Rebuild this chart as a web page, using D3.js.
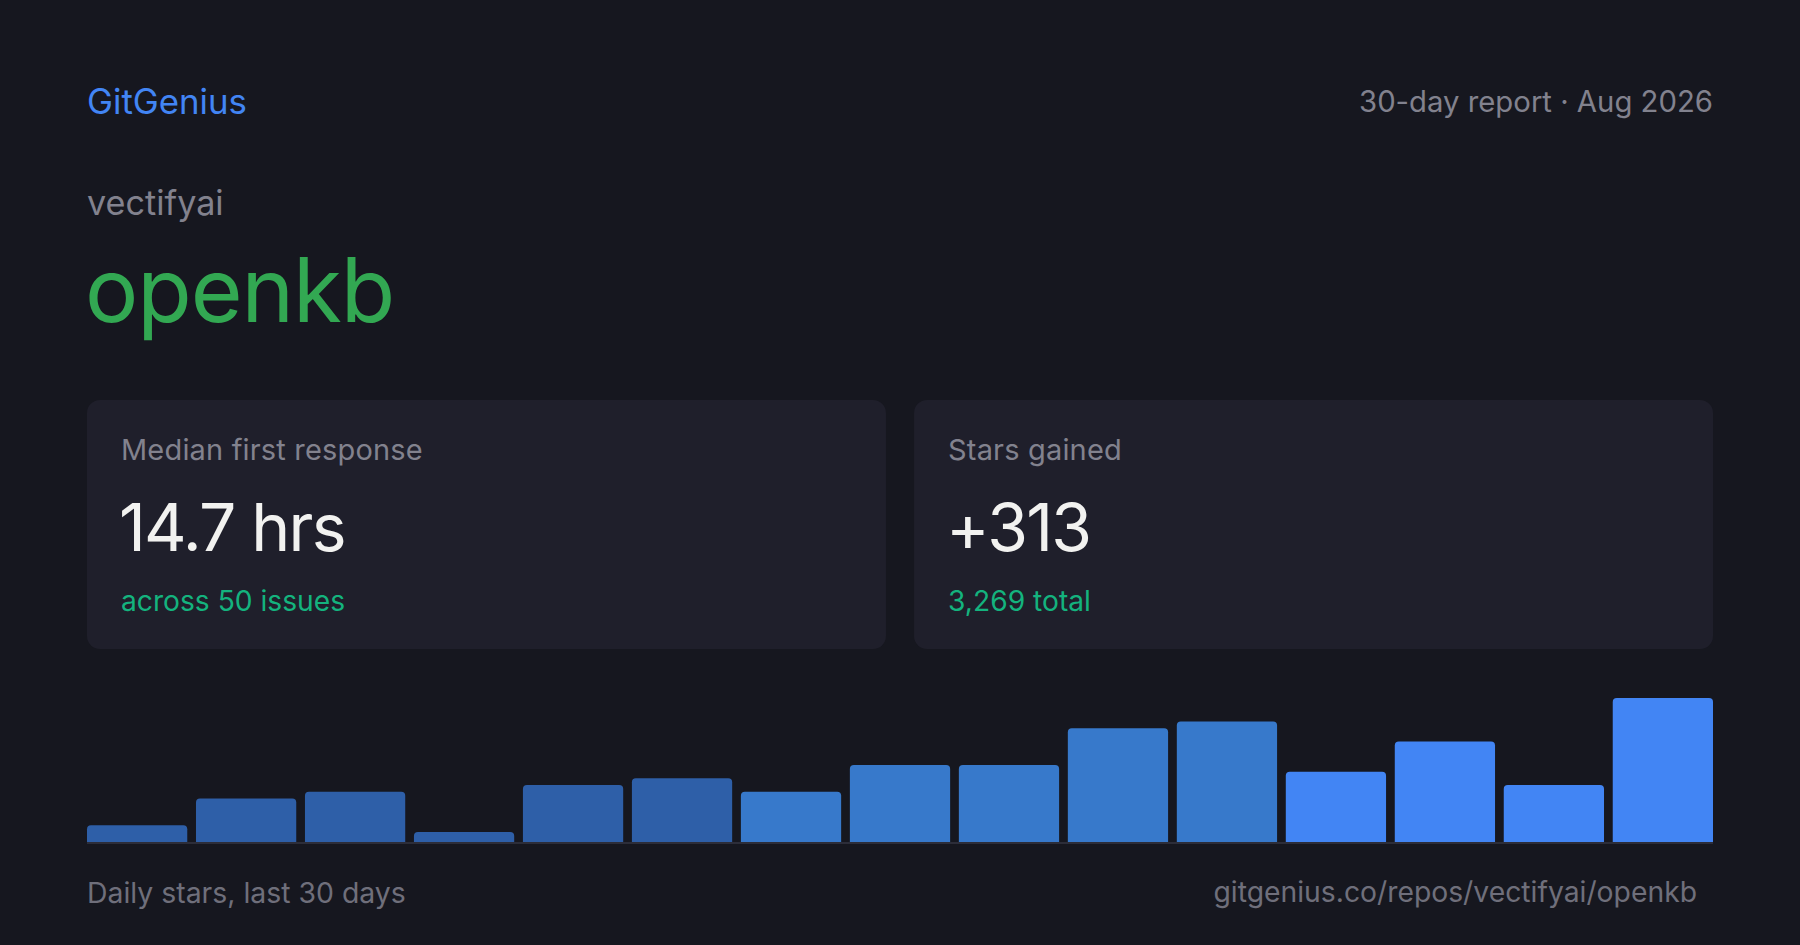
<!DOCTYPE html>
<html>
<head>
<meta charset="utf-8">
<script src="https://cdn.jsdelivr.net/npm/d3@7"></script>
<style>
  html, body { margin: 0; padding: 0; background: #16171f; }
  svg { display: block; }
  text { font-family: Inter, "Noto Sans", sans-serif; }
</style>
</head>
<body>
<svg id="chart" width="1800" height="945"></svg>
<script>
// ---- data ----
const brand = "GitGenius";
const reportLabel = "30-day report · Aug 2026";
const owner = "vectifyai";
const repo = "openkb";
const cardLabels = ["Median first response", "Stars gained"];
const cardValues = ["14.7 hrs", "+313"];
const cardNotes = ["across 50 issues", "3,269 total"];
const barPeriods = d3.range(1, 16);          // 15 two-day buckets over the last 30 days
const dailyStars = [5, 13, 15, 3, 17, 19, 15, 23, 23, 34, 36, 21, 30, 17, 43];
const footerLeft = "Daily stars, last 30 days";
const footerRight = "gitgenius.co/repos/vectifyai/openkb";

// ---- styles ----
const C = {
  bg: "#16171f", card: "#1f1f2b", muted: "#82828e", dim: "#6f6f7b",
  blue: "#4285f4", green: "#32a852", teal: "#14b37e", white: "#f2f2f0",
  axis: "#2c2d39", bars: ["#2e5fa8", "#3779cb", "#4285f4"]
};

const svg = d3.select("#chart");
svg.append("rect").attr("width", 1800).attr("height", 945).attr("fill", C.bg);

// header
svg.append("text").attr("x", 87).attr("y", 114).attr("font-size", 34.8)
  .attr("fill", C.blue).text(brand);
svg.append("text").attr("x", 1713).attr("y", 112).attr("font-size", 29.3)
  .attr("text-anchor", "end").attr("fill", C.muted).text(reportLabel);
svg.append("text").attr("x", 87).attr("y", 215).attr("font-size", 34.2)
  .attr("fill", C.muted).text(owner);
svg.append("text").attr("x", 85).attr("y", 322).attr("font-size", 89)
  .attr("letter-spacing", "-0.012em").attr("fill", C.green).text(repo);

// cards
const cardX = d3.scaleBand().domain([0, 1]).range([87, 1713]).paddingInner(0.034);
const cards = svg.selectAll("g.card").data(cardLabels).join("g")
  .attr("class", "card")
  .attr("transform", (d, i) => `translate(${cardX(i)},400)`);
cards.append("rect").attr("width", cardX.bandwidth()).attr("height", 249)
  .attr("rx", 13).attr("fill", C.card);
cards.append("text").attr("x", 34).attr("y", 60).attr("font-size", 29)
  .attr("letter-spacing", "0.006em").attr("fill", C.muted).text(d => d);
cards.append("text").attr("x", 32).attr("y", 151).attr("font-size", 66)
  .attr("letter-spacing", "-0.027em").attr("fill", C.white).text((d, i) => cardValues[i]);
cards.append("text").attr("x", 34).attr("y", 211).attr("font-size", 28.2)
  .attr("fill", C.teal).text((d, i) => cardNotes[i]);

// bars
const x = d3.scaleBand().domain(barPeriods).range([87, 1713]).paddingInner(0.08).paddingOuter(0);
const y = d3.scaleLinear().domain([0, d3.max(dailyStars)]).range([842, 698]);
const r = 4;
function topRounded(x0, y0, w, h) {
  const rr = Math.min(r, h, w / 2);
  return `M${x0},${y0 + h}V${y0 + rr}Q${x0},${y0} ${x0 + rr},${y0}H${x0 + w - rr}Q${x0 + w},${y0} ${x0 + w},${y0 + rr}V${y0 + h}Z`;
}
svg.append("g").selectAll("path").data(dailyStars).join("path")
  .attr("d", (d, i) => topRounded(x(barPeriods[i]), y(d), x.bandwidth(), y(0) - y(d)))
  .attr("fill", (d, i) => i < 6 ? C.bars[0] : i < 11 ? C.bars[1] : C.bars[2]);
svg.append("rect").attr("x", 87).attr("y", 842).attr("width", 1713 - 87).attr("height", 2)
  .attr("fill", C.axis);

// footer
svg.append("text").attr("x", 87).attr("y", 903).attr("font-size", 28.4)
  .attr("fill", C.dim).text(footerLeft);
svg.append("text").attr("x", 1697).attr("y", 902).attr("font-size", 28.3)
  .attr("text-anchor", "end").attr("fill", C.dim).text(footerRight);
</script>
</body>
</html>
